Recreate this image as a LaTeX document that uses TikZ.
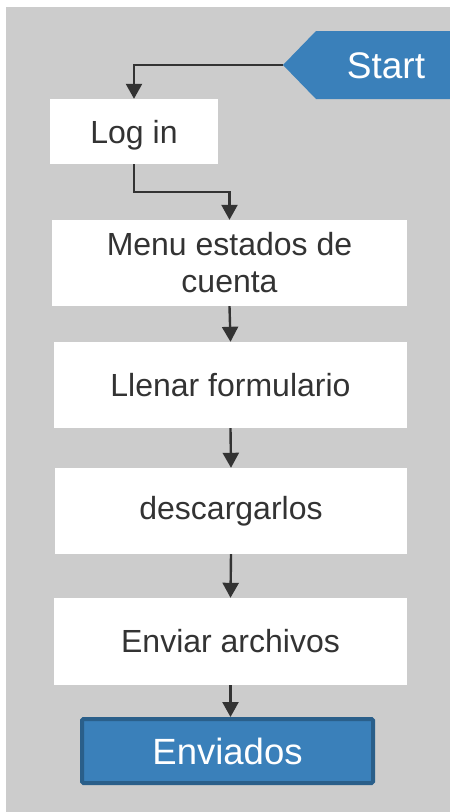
\documentclass[tikz,border=0pt]{standalone}
\usepackage{fontspec}
\setmainfont{Liberation Sans}
\usetikzlibrary{arrows.meta}
\definecolor{bg}{HTML}{CCCCCC}
\definecolor{blu}{HTML}{3A80BA}
\definecolor{bludk}{HTML}{2A5F8A}
\definecolor{txt}{HTML}{333333}
\tikzset{
  stepbox/.style={fill=white, draw=none, inner sep=0pt, align=center, text=txt,
    font=\fontsize{32}{37}\selectfont},
  arr/.style={draw=txt, line width=2.4pt, -{Triangle[width=16pt,length=15pt]}},
}
\begin{document}
\begin{tikzpicture}[x=1pt,y=-1pt]
\useasboundingbox (0,0) rectangle (450,812);
\fill[bg] (6,7) rectangle (450,812);
% Start shape
\fill[blu] (283,65) -- (316,31) -- (450,31) -- (450,99) -- (316,99) -- cycle;
\coordinate (tip) at (283,65);
\node[text=white, font=\fontsize{37}{40}\selectfont, inner sep=0pt] (start) at (386,66) {Start};
% boxes
\node[stepbox, text depth=0pt, minimum width=168pt, minimum height=65pt] (login) at (134,131.5) {Log in};
\node[stepbox, minimum width=355pt, minimum height=86pt] (menu) at (229.5,263) {Menu estados de\\cuenta};
\node[stepbox, minimum width=353pt, minimum height=86pt] (llenar) at (230.5,385) {Llenar formulario};
\node[stepbox, minimum width=352pt, minimum height=86pt] (desc) at (231,511) {descargarlos};
\node[stepbox, minimum width=353pt, minimum height=87pt] (enviar) at (230.5,641.5) {Enviar archivos};
\node[fill=blu, draw=bludk, line width=4pt, rounded corners=1.5pt, inner sep=0pt,
  minimum width=291pt, minimum height=64pt, text=white,
  font=\fontsize{36.5}{40}\selectfont] (enviados) at (227.5,751) {Enviados};
% connectors
\draw[arr] (tip) -| (login.north);
\draw[arr] (login.south) -- ++(0,28) -| (menu.north);
\draw[arr] (menu.south) -- (llenar.north);
\draw[arr] (llenar.south) -- (desc.north);
\draw[arr] (desc.south) -- (enviar.north);
\draw[arr] (enviar.south) -- (enviar.south |- enviados.north);
\end{tikzpicture}
\end{document}
